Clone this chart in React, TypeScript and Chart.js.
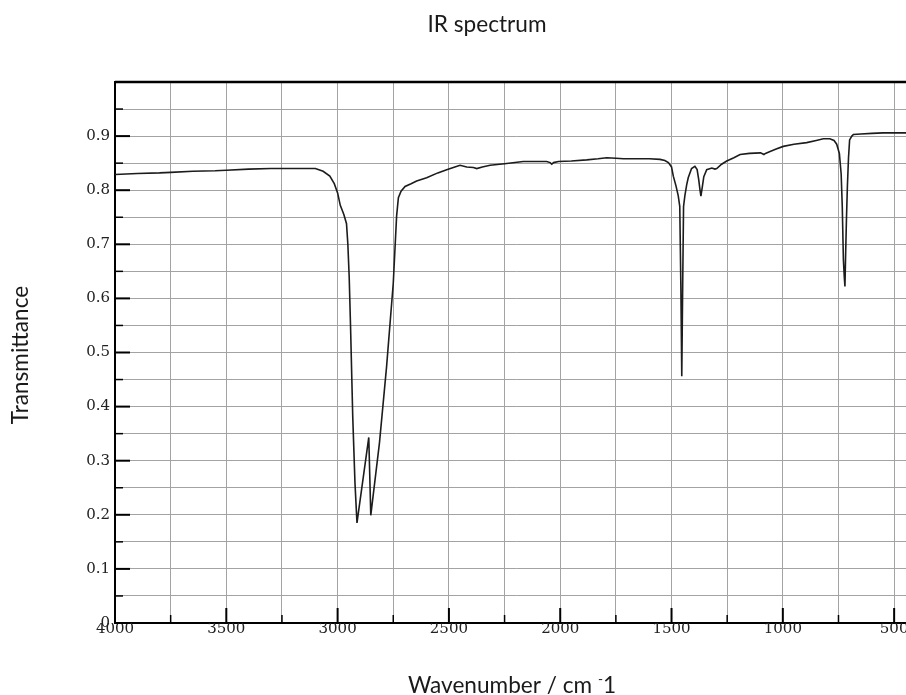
import React, { useEffect, useRef } from "react";
import { Chart, registerables } from "chart.js";

Chart.register(...registerables);

// ---- data ----
const wavenumbers = [
  4000, 3900, 3800, 3750, 3650, 3550, 3500, 3400, 3300, 3200, 3100, 3065, 3035, 3015,
  3000, 2988, 2972, 2960, 2954, 2948, 2942, 2932, 2922, 2913, 2860, 2851, 2812, 2780,
  2750, 2735, 2727, 2715, 2697, 2670, 2645, 2600, 2550, 2510, 2480, 2450, 2420, 2390,
  2375, 2350, 2315, 2250, 2166, 2100, 2061, 2045, 2038, 2030, 2008, 1950, 1881, 1830,
  1791, 1750, 1716, 1680, 1641, 1600, 1552, 1530, 1514, 1500, 1492, 1480, 1470, 1463,
  1458, 1454, 1450, 1446, 1440, 1432, 1425, 1410, 1395, 1385, 1378, 1372, 1368, 1362,
  1355, 1342, 1319, 1305, 1297, 1275, 1252, 1220, 1192, 1150, 1100, 1085, 1078, 1060,
  1030, 998, 950, 893, 850, 818, 789, 770, 758, 746, 738, 733, 728, 724, 721, 718, 714,
  710, 705, 700, 690, 683, 650, 600, 550, 500, 430,
];
const transmittance = [
  0.829, 0.831, 0.832, 0.833, 0.835, 0.836, 0.837, 0.839, 0.84, 0.84, 0.84, 0.835, 0.826, 0.812,
  0.795, 0.772, 0.755, 0.738, 0.7, 0.64, 0.55, 0.381, 0.259, 0.185, 0.343, 0.199, 0.333, 0.474,
  0.628, 0.752, 0.786, 0.798, 0.807, 0.812, 0.817, 0.823, 0.832, 0.838, 0.842, 0.846, 0.843, 0.842,
  0.84, 0.843, 0.846, 0.849, 0.853, 0.853, 0.853, 0.851, 0.848, 0.851, 0.853, 0.854, 0.856, 0.858,
  0.86, 0.859, 0.858, 0.858, 0.858, 0.858, 0.857, 0.855, 0.851, 0.843, 0.826, 0.808, 0.79, 0.77,
  0.62, 0.456, 0.62, 0.77, 0.79, 0.81, 0.823, 0.84, 0.844, 0.838, 0.82, 0.8, 0.789, 0.805,
  0.825, 0.838, 0.841, 0.839, 0.84, 0.848, 0.854, 0.86, 0.866, 0.868, 0.869, 0.866, 0.868, 0.871,
  0.876, 0.881, 0.885, 0.888, 0.892, 0.895, 0.895, 0.892, 0.885, 0.868, 0.83, 0.77, 0.672, 0.64, 0.622, 0.68, 0.75,
  0.807, 0.86, 0.893, 0.9, 0.903, 0.904, 0.905, 0.906, 0.906, 0.906,
];

const xTickValues = [4000, 3750, 3500, 3250, 3000, 2750, 2500, 2250, 2000, 1750, 1500, 1250, 1000, 750, 500];
const xLabelValues = [4000, 3500, 3000, 2500, 2000, 1500, 1000, 500];
const yTickValues = [0, 0.05, 0.1, 0.15, 0.2, 0.25, 0.3, 0.35, 0.4, 0.45, 0.5, 0.55, 0.6, 0.65, 0.7, 0.75, 0.8, 0.85, 0.9, 0.95, 1];
const yLabelValues = [0, 0.1, 0.2, 0.3, 0.4, 0.5, 0.6, 0.7, 0.8, 0.9];

const chartTitle = "IR spectrum";
const yAxisTitle = "Transmittance";
const xAxisTitleMain = "Wavenumber / cm ";
const xAxisTitleSup = "-";
const xAxisTitleEnd = "1";

const X_MIN = 400;
const X_MAX = 4000;

const CANVAS_W = 930;
const CANVAS_H = 695;
const TITLE_FONT = "Lato, 'Open Sans', sans-serif";

const decorPlugin = {
  id: "decor",
  afterDraw(chart: any) {
    const { ctx, chartArea: a, scales } = chart;
    const xs = scales.x;
    const ys = scales.y;
    ctx.save();
    // top frame line
    ctx.strokeStyle = "#000";
    ctx.lineWidth = 2.5;
    ctx.beginPath();
    ctx.moveTo(a.left, a.top);
    ctx.lineTo(a.right, a.top);
    ctx.stroke();
    // inward tick marks
    for (const v of yTickValues) {
      const py = ys.getPixelForValue(v);
      const major = yLabelValues.includes(v);
      ctx.lineWidth = major ? 2 : 1.5;
      ctx.beginPath();
      ctx.moveTo(a.left, py);
      ctx.lineTo(a.left + (major ? 15 : 8), py);
      ctx.stroke();
    }
    for (const v of xTickValues) {
      const px = xs.getPixelForValue(v);
      const major = xLabelValues.includes(v);
      ctx.lineWidth = major ? 2 : 1.5;
      ctx.beginPath();
      ctx.moveTo(px, a.bottom);
      ctx.lineTo(px, a.bottom - (major ? 15 : 8));
      ctx.stroke();
    }

    // titles
    ctx.fillStyle = "#1a1a1a";
    ctx.textBaseline = "alphabetic";
    // fit size so the title matches the reference width
    ctx.font = `24px ${TITLE_FONT}`;
    const w24 = ctx.measureText(chartTitle).width;
    const size = Math.max(18, Math.min(28, (24 * 119) / w24));
    ctx.font = `${size}px ${TITLE_FONT}`;
    ctx.textAlign = "center";
    ctx.fillText(chartTitle, 487, 32);

    // y title
    ctx.save();
    ctx.translate(28, 355);
    ctx.rotate(-Math.PI / 2);
    ctx.textAlign = "center";
    ctx.fillText(yAxisTitle, 0, 0);
    ctx.restore();

    // x title with superscript minus
    ctx.textAlign = "left";
    const wMain = ctx.measureText(xAxisTitleMain).width;
    const wEnd = ctx.measureText(xAxisTitleEnd).width;
    ctx.font = `${size * 0.6}px ${TITLE_FONT}`;
    const wSup = ctx.measureText(xAxisTitleSup).width;
    const total = wMain + wSup + wEnd;
    const startX = 512 - total / 2;
    const baseY = 693;
    ctx.font = `${size}px ${TITLE_FONT}`;
    ctx.fillText(xAxisTitleMain, startX, baseY);
    ctx.font = `${size * 0.6}px ${TITLE_FONT}`;
    ctx.fillText(xAxisTitleSup, startX + wMain, baseY - size * 0.42);
    ctx.font = `${size}px ${TITLE_FONT}`;
    ctx.fillText(xAxisTitleEnd, startX + wMain + wSup, baseY);
    ctx.restore();
  },
};

export default function App() {
  const ref = useRef<HTMLCanvasElement | null>(null);

  useEffect(() => {
    if (!ref.current) return;
    const points = wavenumbers.map((w, i) => ({ x: w, y: transmittance[i] }));
    const tickFont = { family: "'DejaVu Serif', serif", size: 15, lineHeight: 1 };
    const chart = new Chart(ref.current, {
      type: "line",
      data: {
        datasets: [
          {
            data: points,
            borderColor: "#1c1c1c",
            borderWidth: 1.6,
            pointRadius: 0,
            tension: 0,
            fill: false,
          },
        ],
      },
      options: {
        animation: false,
        responsive: false,
        devicePixelRatio: 1,
        layout: { padding: { left: 0, top: 82, right: CANVAS_W - 916.4, bottom: 0 } },
        plugins: { legend: { display: false }, tooltip: { enabled: false }, title: { display: false } },
        scales: {
          x: {
            type: "linear",
            reverse: true,
            min: X_MIN,
            max: X_MAX,
            afterBuildTicks: (scale: any) => {
              scale.ticks = xTickValues.map((v) => ({ value: v }));
            },
            afterFit: (scale: any) => {
              scale.height = 72;
            },
            ticks: {
              autoSkip: false,
              maxRotation: 0,
              minRotation: 0,
              padding: -1,
              color: "#222",
              font: tickFont,
              callback: (v: any) => (xLabelValues.includes(Number(v)) ? String(v) : ""),
            },
            grid: { color: "#a3a3a3", lineWidth: 1, drawTicks: false },
            border: { display: true, color: "#000", width: 2 },
          },
          y: {
            type: "linear",
            min: 0,
            max: 1,
            afterBuildTicks: (scale: any) => {
              scale.ticks = yTickValues.map((v) => ({ value: v }));
            },
            afterFit: (scale: any) => {
              scale.width = 115;
            },
            ticks: {
              autoSkip: false,
              padding: 5,
              color: "#222",
              font: tickFont,
              callback: (v: any) => (yLabelValues.includes(Number(v)) ? String(v) : ""),
            },
            grid: { color: "#a3a3a3", lineWidth: 1, drawTicks: false },
            border: { display: true, color: "#000", width: 2 },
          },
        },
      },
      plugins: [decorPlugin],
    });
    return () => chart.destroy();
  }, []);

  return (
    <div
      style={{
        position: "fixed",
        left: 0,
        top: 0,
        width: 906,
        height: 695,
        overflow: "hidden",
        background: "#fff",
      }}
    >
      <canvas ref={ref} width={CANVAS_W} height={CANVAS_H} style={{ display: "block" }} />
    </div>
  );
}
